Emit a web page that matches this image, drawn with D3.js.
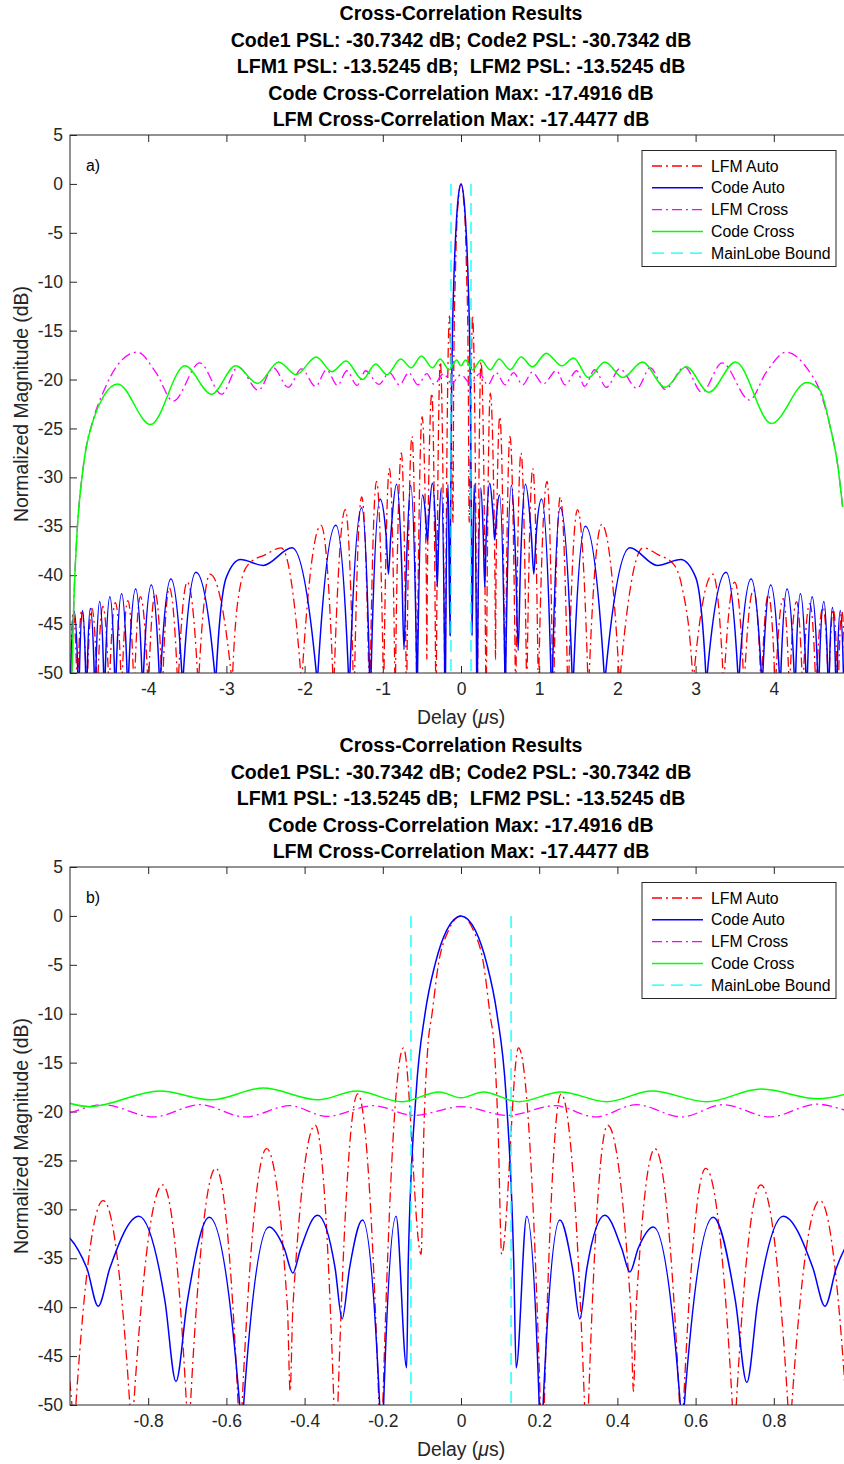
<!DOCTYPE html>
<html>
<head>
<meta charset="utf-8">
<script src="https://cdn.jsdelivr.net/npm/d3@7"></script>
<style>
  body { margin: 0; background: #fff; }
  svg { display: block; font-family: "Liberation Sans", Arial, Helvetica, sans-serif; }
  .title { white-space: pre; }
</style>
</head>
<body>
<div id="chart"></div>
<script>
// ---- data (delay in us, magnitude in dB) ----
const titleLines = [
  "Cross-Correlation Results",
  "Code1 PSL: -30.7342 dB; Code2 PSL: -30.7342 dB",
  "LFM1 PSL: -13.5245 dB;  LFM2 PSL: -13.5245 dB",
  "Code Cross-Correlation Max: -17.4916 dB",
  "LFM Cross-Correlation Max: -17.4477 dB"
];
const legendLabels = ["LFM Auto", "Code Auto", "LFM Cross", "Code Cross", "MainLobe Bound"];
const panelTags = ["a)", "b)"];
const yTicks = [5, 0, -5, -10, -15, -20, -25, -30, -35, -40, -45, -50];
const xTicksWide = [-4, -3, -2, -1, 0, 1, 2, 3, 4];
const xTicksZoom = [-0.8, -0.6, -0.4, -0.2, 0, 0.2, 0.4, 0.6, 0.8];
const xDomainWide = [-5, 5];
const xDomainZoom = [-1, 1];
const yDomain = [-50, 5];

// main lobe bound (vertical lines) and their dB extent
const mainLobeBound = [-0.128, 0.128];
const boundRange = [0, -50];

// LFM auto-correlation. Deep nulls: the two points where the lobe walls
// meet the -50 dB axis, with the (unseen) null itself put at -60.
const lfmAuto = [
  [-5.00, -60], [-4.99, -50], [-4.96, -43.8],
  [-4.915, -50], [-4.905, -60], [-4.895, -50], [-4.85, -43.6],
  [-4.795, -50], [-4.785, -60], [-4.775, -50], [-4.72, -43.4],
  [-4.66, -50], [-4.65, -60], [-4.64, -50], [-4.58, -43.2],
  [-4.51, -50], [-4.50, -60], [-4.49, -50], [-4.42, -42.8],
  [-4.35, -50], [-4.34, -60], [-4.33, -50], [-4.26, -42.6],
  [-4.19, -50], [-4.18, -60], [-4.17, -50], [-4.10, -42.2],
  [-4.01, -50], [-4.00, -60], [-3.99, -50], [-3.91, -41.9],
  [-3.83, -50], [-3.82, -60], [-3.81, -50], [-3.73, -41.3],
  [-3.63, -50], [-3.62, -60], [-3.61, -50], [-3.50, -40.7],
  [-3.37, -50], [-3.36, -60], [-3.35, -50], [-3.21, -39.9],
  [-2.94, -50], [-2.93, -60], [-2.92, -50], [-2.82, -41.0], [-2.72, -38.9], [-2.50, -37.9], [-2.30, -37.2],
  [-2.05, -50], [-2.04, -60], [-2.03, -50], [-1.79, -34.9],
  [-1.64, -50], [-1.63, -60], [-1.62, -50], [-1.48, -33.3],
  [-1.38, -50], [-1.37, -60], [-1.36, -50], [-1.27, -32.0],
  [-1.18, -50], [-1.17, -60], [-1.16, -50], [-1.08, -30.4],
  [-0.995, -50], [-0.99, -60], [-0.985, -50], [-0.915, -29.1],
  [-0.847, -50], [-0.842, -60], [-0.837, -50], [-0.763, -27.5],
  [-0.702, -50], [-0.697, -60], [-0.692, -50], [-0.627, -25.8],
  [-0.570, -50], [-0.565, -60], [-0.560, -50], [-0.497, -23.8],
  [-0.444, -40.0], [-0.437, -48.6], [-0.430, -40.0], [-0.373, -21.4],
  [-0.325, -50], [-0.320, -60], [-0.315, -50], [-0.264, -18.2],
  [-0.210, -50], [-0.205, -60], [-0.200, -50], [-0.147, -13.5], [-0.102, -34.6],
  [-0.095, -22.0], [-0.085, -13.5], [-0.074, -10.0], [-0.058, -5.0], [-0.032, -1.5], [0, 0],
  [0.032, -1.5], [0.058, -5.0], [0.074, -10.0], [0.085, -13.5], [0.095, -22.0],
  [0.104, -34.6], [0.147, -13.5], [0.203, -50], [0.208, -60], [0.213, -50],
  [0.256, -18.2], [0.316, -50], [0.321, -60], [0.326, -50],
  [0.375, -21.4], [0.434, -40.0], [0.441, -48.6], [0.448, -40.0], [0.496, -23.8],
  [0.559, -50], [0.564, -60], [0.569, -50],
  [0.626, -25.8], [0.694, -50], [0.699, -60], [0.704, -50],
  [0.767, -27.5], [0.836, -50], [0.841, -60], [0.846, -50],
  [0.918, -29.1], [0.985, -50], [0.99, -60], [0.995, -50],
  [1.10, -30.4], [1.17, -50], [1.18, -60], [1.19, -50],
  [1.27, -32.0], [1.36, -50], [1.37, -60], [1.38, -50],
  [1.49, -33.3], [1.62, -50], [1.63, -60], [1.64, -50],
  [1.80, -34.8], [2.02, -50], [2.03, -60], [2.04, -50],
  [2.33, -37.2], [2.52, -37.9], [2.72, -38.9], [2.82, -41.0], [2.96, -50], [2.97, -60], [2.98, -50],
  [3.22, -39.9], [3.35, -50], [3.36, -60], [3.37, -50],
  [3.50, -40.7], [3.61, -50], [3.62, -60], [3.63, -50],
  [3.74, -41.5], [3.83, -50], [3.84, -60], [3.85, -50],
  [3.93, -42.0], [4.01, -50], [4.02, -60], [4.03, -50],
  [4.12, -42.4], [4.19, -50], [4.20, -60], [4.21, -50],
  [4.29, -42.7], [4.36, -50], [4.37, -60], [4.38, -50],
  [4.46, -42.9], [4.53, -50], [4.54, -60], [4.55, -50],
  [4.63, -43.3], [4.69, -50], [4.70, -60], [4.71, -50],
  [4.76, -43.5], [4.81, -50], [4.82, -60], [4.83, -50],
  [4.87, -43.7], [4.91, -50], [4.92, -60]
];

// phase code auto-correlation
const codeAuto = [
  [-5.00, -60], [-4.99, -50], [-4.946, -43.7],
  [-4.90, -50], [-4.89, -60], [-4.88, -50], [-4.84, -43.6],
  [-4.80, -50], [-4.79, -60], [-4.78, -50], [-4.74, -43.4],
  [-4.69, -50], [-4.68, -60], [-4.67, -50], [-4.62, -42.7],
  [-4.57, -50], [-4.56, -60], [-4.55, -50], [-4.49, -42.2],
  [-4.43, -50], [-4.42, -60], [-4.41, -50], [-4.34, -41.9],
  [-4.27, -50], [-4.26, -60], [-4.25, -50], [-4.16, -41.4],
  [-4.08, -50], [-4.07, -60], [-4.06, -50], [-3.96, -41.0],
  [-3.86, -50], [-3.85, -60], [-3.84, -50], [-3.71, -40.4],
  [-3.57, -50], [-3.56, -60], [-3.55, -50], [-3.39, -39.7],
  [-3.15, -50], [-3.14, -60], [-3.13, -50], [-3.00, -40.2], [-2.82, -38.4], [-2.53, -39.0], [-2.16, -37.2],
  [-1.85, -50], [-1.84, -60], [-1.83, -50], [-1.60, -34.9],
  [-1.44, -50], [-1.43, -60], [-1.42, -50], [-1.27, -33.1],
  [-1.17, -50], [-1.16, -60], [-1.15, -50], [-1.035, -32.2],
  [-0.957, -36.0], [-0.928, -39.9], [-0.898, -36.0], [-0.824, -30.7],
  [-0.757, -39.4], [-0.729, -47.6], [-0.700, -39.4], [-0.644, -30.8],
  [-0.566, -50], [-0.561, -60], [-0.556, -50], [-0.491, -31.8],
  [-0.452, -34.0], [-0.430, -36.5], [-0.410, -34.0], [-0.367, -30.6],
  [-0.322, -36.0], [-0.304, -41.2], [-0.285, -36.0], [-0.252, -31.1],
  [-0.208, -50], [-0.203, -60], [-0.198, -50], [-0.166, -30.7],
  [-0.139, -46.2], [-0.135, -35.6], [-0.115, -18.2], [-0.092, -10.0], [-0.066, -4.9], [-0.037, -1.5], [0, 0],
  [0.037, -1.5], [0.066, -4.9], [0.092, -10.0], [0.115, -18.2], [0.135, -35.6], [0.141, -46.2],
  [0.168, -30.7], [0.200, -50], [0.205, -60], [0.210, -50],
  [0.253, -31.1], [0.285, -36.0], [0.304, -41.2], [0.322, -36.0], [0.368, -30.6],
  [0.411, -34.0], [0.432, -36.4], [0.453, -34.0], [0.492, -31.8],
  [0.561, -50], [0.566, -60], [0.571, -50], [0.645, -30.8],
  [0.702, -39.4], [0.731, -47.7], [0.759, -39.4], [0.824, -30.7],
  [0.900, -36.0], [0.931, -39.9], [0.960, -36.0], [1.03, -32.2],
  [1.15, -50], [1.16, -60], [1.17, -50], [1.27, -33.1],
  [1.42, -50], [1.43, -60], [1.44, -50], [1.59, -35.0],
  [1.83, -50], [1.84, -60], [1.85, -50], [2.16, -37.2], [2.51, -39.0], [2.81, -38.4], [3.00, -40.2],
  [3.13, -50], [3.14, -60], [3.15, -50], [3.39, -39.7],
  [3.54, -50], [3.55, -60], [3.56, -50], [3.71, -40.4],
  [3.84, -50], [3.85, -60], [3.86, -50], [3.96, -41.0],
  [4.07, -50], [4.08, -60], [4.09, -50], [4.17, -41.4],
  [4.26, -50], [4.27, -60], [4.28, -50], [4.34, -41.9],
  [4.41, -50], [4.42, -60], [4.43, -50], [4.49, -42.2],
  [4.56, -50], [4.57, -60], [4.58, -50], [4.64, -42.7],
  [4.69, -50], [4.70, -60], [4.71, -50], [4.75, -43.3],
  [4.79, -50], [4.80, -60], [4.81, -50], [4.85, -43.6],
  [4.89, -50], [4.90, -60]
];

// LFM cross-correlation
const lfmCross = [
  [-5.00, -58], [-4.975, -50], [-4.95, -42.5], [-4.91, -35.7], [-4.83, -28.9], [-4.70, -24.0],
  [-4.57, -21.2], [-4.40, -18.6], [-4.14, -17.2], [-3.90, -19.3], [-3.68, -22.2], [-3.34, -18.3],
  [-3.06, -21.5], [-2.85, -18.7], [-2.59, -21.1], [-2.40, -18.8], [-2.21, -20.8], [-2.04, -18.9],
  [-1.86, -20.7], [-1.72, -19.0], [-1.58, -20.6], [-1.46, -19.1], [-1.33, -20.6], [-1.22, -19.1],
  [-1.05, -20.5], [-0.915, -19.3], [-0.787, -20.55], [-0.668, -19.3], [-0.552, -20.55],
  [-0.437, -19.4], [-0.344, -20.5], [-0.224, -19.4], [-0.120, -20.4], [0, -19.5],
  [0.121, -20.4], [0.240, -19.4], [0.343, -20.55], [0.449, -19.3], [0.564, -20.55],
  [0.671, -19.3], [0.790, -20.55], [0.910, -19.25], [1.05, -20.45], [1.22, -19.1], [1.33, -20.55],
  [1.48, -19.1], [1.58, -20.7], [1.71, -19.0], [1.86, -20.8], [2.03, -18.9], [2.25, -20.9],
  [2.42, -18.8], [2.61, -21.0], [2.86, -18.7], [3.08, -21.3], [3.34, -18.3], [3.69, -22.1],
  [3.90, -19.3], [4.16, -17.2], [4.42, -18.8], [4.59, -21.2], [4.72, -24.8], [4.82, -28.9],
  [4.88, -33.0]
];

// code cross-correlation
const codeCross = [
  [-5.00, -58], [-4.975, -50], [-4.95, -42.5], [-4.91, -35.7], [-4.83, -28.9], [-4.70, -24.1],
  [-4.57, -21.7], [-4.39, -20.45], [-3.97, -24.6], [-3.53, -18.6], [-3.19, -21.5], [-2.88, -18.6],
  [-2.60, -20.4], [-2.33, -18.2], [-2.11, -19.5], [-1.85, -17.7], [-1.65, -19.2], [-1.47, -18.1],
  [-1.26, -20.0], [-1.09, -18.4], [-0.949, -19.5], [-0.770, -17.9], [-0.638, -18.8],
  [-0.506, -17.6], [-0.365, -18.8], [-0.267, -17.9], [-0.152, -19.0], [-0.056, -18.0],
  [0, -18.6], [0.057, -18.0], [0.147, -19.0], [0.256, -18.0], [0.373, -19.0], [0.488, -17.9],
  [0.628, -19.0], [0.767, -17.7], [0.914, -18.7], [1.09, -17.3], [1.29, -18.6], [1.44, -17.8],
  [1.63, -19.8], [1.84, -18.2], [2.07, -19.8], [2.32, -18.2], [2.61, -20.8], [2.88, -18.7],
  [3.17, -21.3], [3.51, -18.2], [3.97, -24.5], [4.42, -20.3], [4.59, -21.1], [4.72, -24.8],
  [4.82, -28.9], [4.88, -33.0]
];

// ---- layout ----
const width = 844, height = 1464;
const plotLeft = 70, plotRight = 852, plotHeight = 538;
const panels = [
  { top: 135, domain: xDomainWide, ticks: xTicksWide, tag: panelTags[0] },
  { top: 867, domain: xDomainZoom, ticks: xTicksZoom, tag: panelTags[1] }
];

const series = [
  { label: legendLabels[0], data: lfmAuto, color: "#ff0000", dash: "10,4,2,4", width: 1.3 },
  { label: legendLabels[1], data: codeAuto, color: "#0000ff", dash: null, width: 1.5 },
  { label: legendLabels[2], data: lfmCross, color: "#ff00ff", dash: "10,4,2,4", width: 1.3 },
  { label: legendLabels[3], data: codeCross, color: "#00ff00", dash: null, width: 1.5 }
];
const boundStyle = { label: legendLabels[4], color: "#00ffff", dash: "12,7", width: 1.3 };

const axisColor = "#262626";

const svg = d3.select("#chart").append("svg")
  .attr("width", width)
  .attr("height", height);

svg.append("rect").attr("width", width).attr("height", height).attr("fill", "#fff");

function drawPanel(panel, idx) {
  const x = d3.scaleLinear().domain(panel.domain).range([plotLeft, plotRight]);
  const y = d3.scaleLinear().domain(yDomain).range([panel.top + plotHeight, panel.top]);
  const bottom = panel.top + plotHeight;

  // title
  const title = svg.append("text")
    .attr("class", "title")
    .attr("text-anchor", "middle")
    .attr("font-size", "19.6px")
    .attr("font-weight", "bold")
    .attr("fill", "#000");
  titleLines.forEach((t, i) => {
    title.append("tspan")
      .attr("x", (plotLeft + plotRight) / 2)
      .attr("y", panel.top - 114.7 + i * 26.5)
      .text(t);
  });

  const clipId = "plot-clip-" + idx;
  svg.append("clipPath").attr("id", clipId)
    .append("rect")
    .attr("x", plotLeft).attr("y", panel.top)
    .attr("width", plotRight - plotLeft).attr("height", plotHeight);

  // axes (ticks point inward, like MATLAB)
  const xAxis = svg.append("g")
    .attr("transform", `translate(0,${bottom})`)
    .call(d3.axisBottom(x).tickValues(panel.ticks).tickFormat(d => String(d))
      .tickSize(-7).tickPadding(10));
  const xAxisTop = svg.append("g")
    .attr("transform", `translate(0,${panel.top})`)
    .call(d3.axisTop(x).tickValues(panel.ticks).tickFormat("").tickSize(-7));
  const yAxis = svg.append("g")
    .attr("transform", `translate(${plotLeft},0)`)
    .call(d3.axisLeft(y).tickValues(yTicks).tickFormat(d => String(d))
      .tickSize(-7).tickPadding(7));

  [xAxis, xAxisTop, yAxis].forEach(a => {
    a.select(".domain").remove();
    a.selectAll(".tick line").attr("stroke", axisColor);
    a.selectAll(".tick text")
      .attr("fill", axisColor)
      .attr("font-size", "17.5px")
      .attr("font-family", "Liberation Sans, Arial, sans-serif");
  });

  // data lines
  const plot = svg.append("g").attr("clip-path", `url(#${clipId})`);
  const line = d3.line()
    .x(d => x(d[0]))
    .y(d => y(d[1]))
    .curve(d3.curveMonotoneX);

  series.forEach(s => {
    plot.append("path")
      .attr("d", line(s.data))
      .attr("fill", "none")
      .attr("stroke", s.color)
      .attr("stroke-width", s.width)
      .attr("stroke-dasharray", s.dash)
      .attr("stroke-linejoin", "round");
  });

  const straight = d3.line().x(d => x(d[0])).y(d => y(d[1]));
  mainLobeBound.forEach(b => {
    plot.append("path")
      .attr("d", straight(boundRange.map(v => [b, v])))
      .attr("fill", "none")
      .attr("stroke", boundStyle.color)
      .attr("stroke-width", boundStyle.width)
      .attr("stroke-dasharray", boundStyle.dash);
  });

  // box
  svg.append("rect")
    .attr("x", plotLeft).attr("y", panel.top)
    .attr("width", plotRight - plotLeft).attr("height", plotHeight)
    .attr("fill", "none")
    .attr("stroke", axisColor)
    .attr("stroke-width", 1);

  // panel tag
  svg.append("text")
    .attr("x", 86).attr("y", panel.top + 35.5)
    .attr("font-size", "15.8px")
    .attr("fill", "#000")
    .text(panel.tag);

  // axis labels
  const xl = svg.append("text")
    .attr("x", (plotLeft + plotRight) / 2)
    .attr("y", bottom + 51)
    .attr("text-anchor", "middle")
    .attr("font-size", "19.4px")
    .attr("fill", axisColor);
  xl.append("tspan").text("Delay (");
  xl.append("tspan").attr("font-style", "italic").text("\u03bc");
  xl.append("tspan").text("s)");

  svg.append("text")
    .attr("transform", `translate(27.5,${panel.top + plotHeight / 2}) rotate(-90)`)
    .attr("text-anchor", "middle")
    .attr("font-size", "19.4px")
    .attr("fill", axisColor)
    .text("Normalized Magnitude (dB)");

  // legend
  const legend = svg.append("g").attr("transform", `translate(642,${panel.top + 15.5})`);
  legend.append("rect")
    .attr("width", 194).attr("height", 116)
    .attr("fill", "#fff")
    .attr("stroke", axisColor)
    .attr("stroke-width", 1);
  const entries = series.concat([boundStyle]);
  entries.forEach((s, i) => {
    const cy = 15.5 + i * 21.8;
    legend.append("line")
      .attr("x1", 10).attr("x2", 61)
      .attr("y1", cy).attr("y2", cy)
      .attr("stroke", s.color)
      .attr("stroke-width", s.width)
      .attr("stroke-dasharray", s.dash);
    legend.append("text")
      .attr("x", 69).attr("y", cy)
      .attr("dy", "0.35em")
      .attr("font-size", "15.8px")
      .attr("fill", "#000")
      .text(s.label);
  });
}

panels.forEach(drawPanel);
</script>
</body>
</html>
